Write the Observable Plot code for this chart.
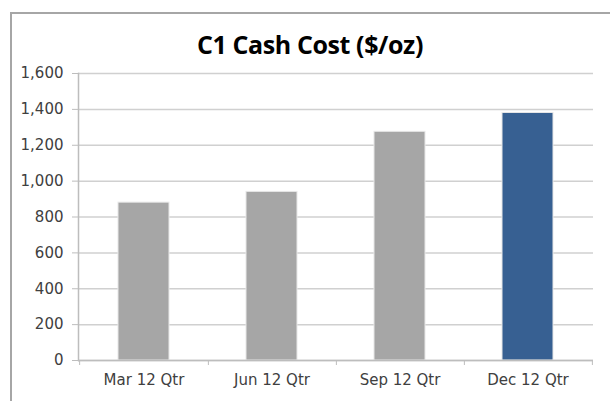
<!DOCTYPE html>
<html>
<head>
<meta charset="utf-8">
<script src="https://cdn.jsdelivr.net/npm/d3@7"></script>
<script src="https://cdn.jsdelivr.net/npm/@observablehq/plot@0.6"></script>
<style>
  html, body { margin: 0; padding: 0; background: #fff; overflow: hidden; }
  #wrap { position: relative; width: 610px; height: 401px; }
  #frame { position: absolute; left: 10px; top: 12px; width: 640px; height: 440px; border: 2px solid #a6a6a6; box-sizing: border-box; }
  #title { position: absolute; left: 0; width: 620px; top: 27px; text-align: center; font-family: "Open Sans", sans-serif; font-weight: 700; font-size: 25px; color: #000; letter-spacing: -0.4px; }
  #chart { position: absolute; left: 0; top: 0; }
</style>
</head>
<body>
<div id="wrap">
  <div id="frame"></div>
  <div id="chart"></div>
  <div id="title">C1 Cash Cost ($/oz)</div>
</div>
<script>
const categories = ["Mar 12 Qtr", "Jun 12 Qtr", "Sep 12 Qtr", "Dec 12 Qtr"];
const values = [880, 940, 1275, 1380];
const barColors = ["#a6a6a6", "#a6a6a6", "#a6a6a6", "#376092"];
const yTicks = [0, 200, 400, 600, 800, 1000, 1200, 1400, 1600];

const data = categories.map((c, i) => ({cat: c, value: values[i], color: barColors[i]}));

const W = 610, ML = 78, MR = 17;
const half = (W - ML - MR) / categories.length / 2;

const chart = Plot.plot({
  width: W,
  height: 401,
  marginLeft: ML,
  marginRight: MR,
  marginTop: 73,
  marginBottom: 41,
  style: {fontFamily: "'DejaVu Sans', sans-serif", fontSize: "15px", background: "transparent"},
  x: {domain: categories, paddingInner: 0.6, paddingOuter: 0.3, label: null},
  y: {domain: [0, 1600], label: null},
  marks: [
    Plot.gridY(yTicks, {stroke: "#d0d0d0", strokeOpacity: 1, strokeWidth: 1.5}),
    Plot.barY(data, {x: "cat", y: "value", fill: "color", stroke: "#e8e8e8", strokeWidth: 1}),
    Plot.ruleY([0], {stroke: "#bdbdbd", strokeWidth: 1.5}),
    Plot.frame({anchor: "left", stroke: "#bdbdbd", strokeWidth: 1.5}),
    Plot.ruleX([categories[0]], {x: d => d, y1: 0, y2: 0, insetBottom: -5, dx: -half, stroke: "#bdbdbd"}),
    Plot.ruleX(categories, {x: d => d, y1: 0, y2: 0, insetBottom: -5, dx: half, stroke: "#bdbdbd"}),
    Plot.axisY(yTicks, {tickSize: 6, tickPadding: 9, tickFormat: d3.format(","), stroke: "#bdbdbd", fill: "#404040", label: null}),
    Plot.axisX({tickSize: 0, tickPadding: 14, fill: "#404040", label: null})
  ]
});
document.getElementById("chart").appendChild(chart);
</script>
</body>
</html>
